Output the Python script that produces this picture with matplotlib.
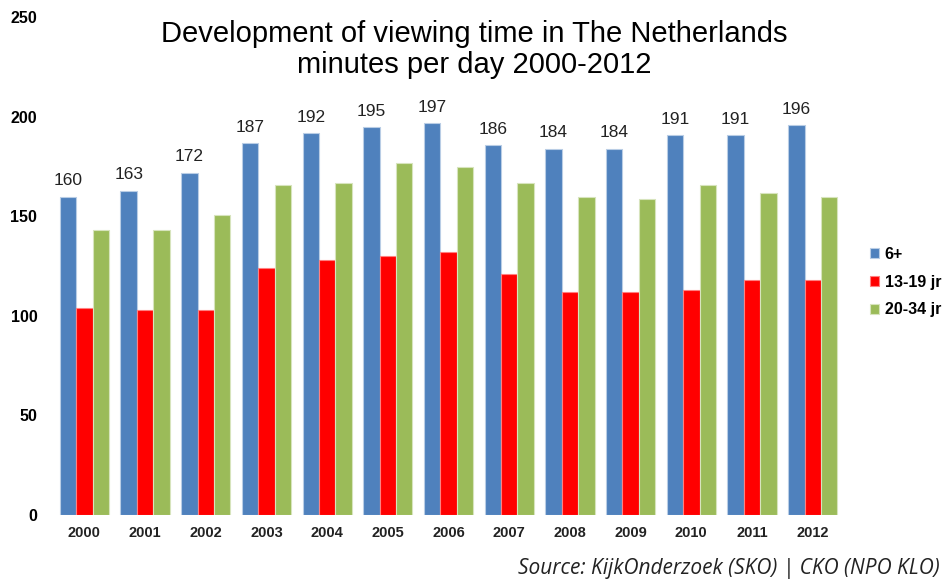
import numpy as np
import matplotlib
matplotlib.use('Agg')
import matplotlib.pyplot as plt

# Data
years = ['2000', '2001', '2002', '2003', '2004', '2005', '2006',
         '2007', '2008', '2009', '2010', '2011', '2012']
all_6plus = [160, 163, 172, 187, 192, 195, 197, 186, 184, 184, 191, 191, 196]
teens_13_19 = [104, 103, 103, 124, 128, 130, 132, 121, 112, 112, 113, 118, 118]
young_20_34 = [143, 143, 151, 166, 167, 177, 175, 167, 160, 159, 166, 162, 160]
series_names = ['6+', '13-19 jr', '20-34 jr']
y_ticks = [0, 50, 100, 150, 200, 250]

plt.rcParams['font.family'] = ['Liberation Sans', 'DejaVu Sans']

fig = plt.figure(figsize=(9.43, 5.81), dpi=100)
ax = fig.add_axes([0.0573, 0.1136, 0.8367, 0.8563])

x = np.arange(len(years))
w = 0.27
colors = ['#4F81BD', '#FF0000', '#9BBB59']
edges = ['#B9CDE5', '#FF8080', '#D7E4BD']
series = [all_6plus, teens_13_19, young_20_34]

bars = []
for i, (vals, c, e) in enumerate(zip(series, colors, edges)):
    b = ax.bar(x + (i - 1) * w, vals, width=w, color=c, edgecolor=e,
               linewidth=0.8, label=series_names[i])
    bars.append(b)

# Value labels above the 6+ bars
for rect, v in zip(bars[0], all_6plus):
    ax.annotate(str(v), (rect.get_x() + rect.get_width() / 2, v),
                xytext=(0, 6), textcoords='offset points',
                ha='center', va='bottom', fontsize=12.5, color='#222222')

ax.set_xlim(-0.5, len(years) - 0.5)
ax.set_ylim(0, 250)
ax.set_yticks(y_ticks)
ax.set_yticklabels([str(t) for t in y_ticks], fontsize=11.5, fontweight='bold')
ax.set_xticks(x)
ax.set_xticklabels(years, fontsize=10.5, fontweight='bold', color='#222222')
ax.tick_params(axis='both', length=0)
ax.tick_params(axis='y', pad=12)
ax.tick_params(axis='x', pad=8)
for s in ax.spines.values():
    s.set_visible(False)

fig.text(0.503, 0.966,
         'Development of viewing time in The Netherlands\nminutes per day 2000-2012',
         ha='center', va='top', fontsize=21, linespacing=1.15)

leg = fig.legend(handles=bars, labels=series_names, loc='upper left',
                 bbox_to_anchor=(0.907, 0.6), frameon=False,
                 prop={'weight': 'bold', 'size': 11.5},
                 handlelength=0.6, handleheight=0.6, handletextpad=0.35,
                 labelspacing=0.8)

fig.text(0.997, 0.004, 'Source: KijkOnderzoek (SKO) | CKO (NPO KLO)',
         ha='right', va='bottom', fontsize=15, style='italic',
         family=['Open Sans', 'DejaVu Sans'], color='#222222')

fig.savefig('out.png', dpi=100)
